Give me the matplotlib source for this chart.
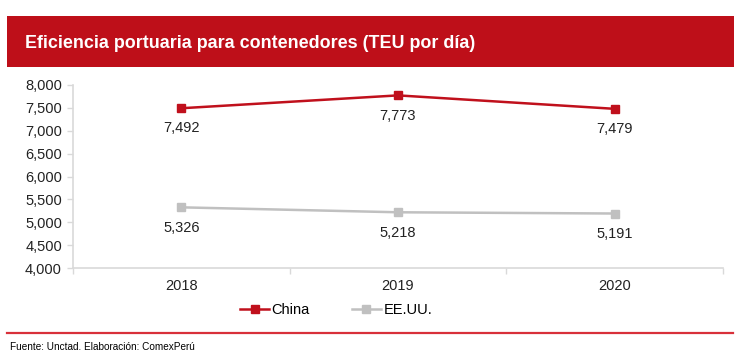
import matplotlib
matplotlib.use("Agg")
import matplotlib.pyplot as plt
from matplotlib.patches import Rectangle
from matplotlib.lines import Line2D

plt.rcParams['font.family'] = ['Liberation Sans', 'DejaVu Sans']

years = ["2018", "2019", "2020"]
china = [7492, 7773, 7479]
eeuu = [5326, 5218, 5191]
yticks = [4000, 4500, 5000, 5500, 6000, 6500, 7000, 7500, 8000]

W, H = 746, 363
fig = plt.figure(figsize=(W / 100, H / 100), dpi=100)

# Title banner
fig.patches.append(Rectangle((7 / W, 1 - 67 / H), (734 - 7) / W, (67 - 16) / H,
                             transform=fig.transFigure, facecolor="#BE0F19",
                             edgecolor="none", zorder=0))
fig.text(25 / W, 1 - 44 / H, "Eficiencia portuaria para contenedores (TEU por día)",
         color="white", fontsize=12.9, fontweight="bold", va="center", ha="left")

# Separator line and footer
fig.add_artist(Line2D([7 / W, 733 / W], [1 - 333 / H, 1 - 333 / H],
                      transform=fig.transFigure, color="#D8303A", lw=1.6))
fig.text(10 / W, 1 - 347 / H, "Fuente: Unctad. Elaboración: ComexPerú",
         fontsize=7.2, color="#000000", va="center", ha="left")

ax = fig.add_axes([73 / W, 1 - 268 / H, (723 - 73) / W, (268 - 85) / H])
x = list(range(len(years)))
ax.plot(x, china, color="#C0101C", lw=1.8, marker="s", markersize=5.5, label="China")
ax.plot(x, eeuu, color="#C0C0C0", lw=1.8, marker="s", markersize=5.5, label="EE.UU.")

for xi, v in zip(x, china):
    ax.annotate(f"{v:,}", (xi, v), xytext=(0, -14.5), textcoords="offset points",
                ha="center", va="center", fontsize=10.5, color="#222222")
for xi, v in zip(x, eeuu):
    ax.annotate(f"{v:,}", (xi, v), xytext=(0, -15), textcoords="offset points",
                ha="center", va="center", fontsize=10.5, color="#222222")

ax.set_xlim(-0.5, 2.5)
ax.set_ylim(4000, 8000)
ax.set_yticks(yticks)
ax.set_yticklabels([f"{v:,}" for v in yticks], fontsize=10.5, color="#222222")
ax.set_xticks(x)
ax.set_xticklabels(years, fontsize=10.5, color="#222222")
ax.tick_params(axis="x", length=0, pad=8)
ax.set_xticks([-0.5, 0.5, 1.5, 2.5], minor=True)
ax.tick_params(axis="x", which="minor", length=4, color="#D9D9D9", width=1)
ax.tick_params(axis="y", length=4, color="#D9D9D9", width=1, pad=4)
for s in ["top", "right"]:
    ax.spines[s].set_visible(False)
for s in ["left", "bottom"]:
    ax.spines[s].set_color("#D9D9D9")
    ax.spines[s].set_linewidth(1.2)

fig.legend(loc="center", bbox_to_anchor=(336 / W, 1 - 310 / H), ncol=2,
           frameon=False, fontsize=10.5, handlelength=2.0, columnspacing=2.9,
           handletextpad=0.15)

fig.savefig("out.png", dpi=100)
